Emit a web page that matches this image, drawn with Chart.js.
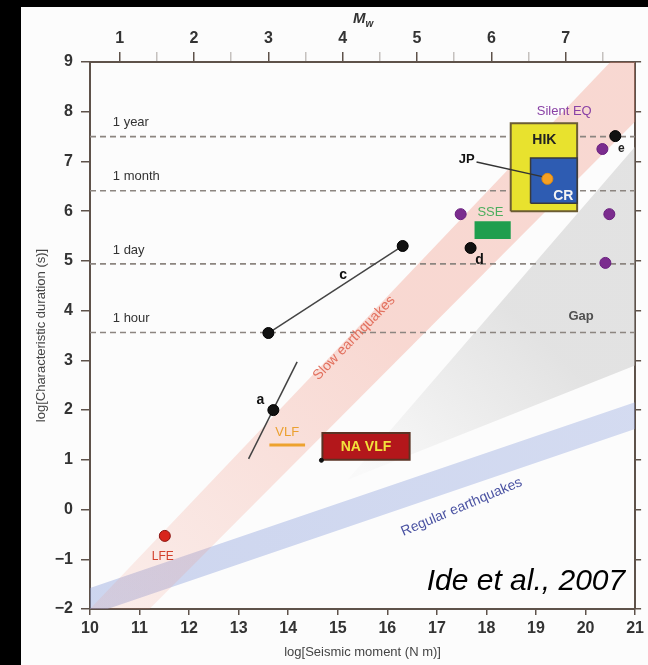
<!DOCTYPE html>
<html>
<head>
<meta charset="utf-8">
<script src="https://cdn.jsdelivr.net/npm/chart.js@4.4.1/dist/chart.umd.min.js"></script>
<style>
  html, body { margin: 0; padding: 0; background: #000; }
  canvas { display: block; }
</style>
</head>
<body>
<canvas id="chart" width="648" height="665"></canvas>
<script>
// axes
const momentTicks = [10, 11, 12, 13, 14, 15, 16, 17, 18, 19, 20, 21];
const durationTicks = [-2, -1, 0, 1, 2, 3, 4, 5, 6, 7, 8, 9];
const mwTicks = [1, 1.5, 2, 2.5, 3, 3.5, 4, 4.5, 5, 5.5, 6, 6.5, 7, 7.5];

// reference durations (log s)
const timescaleNames = ['1 year', '1 month', '1 day', '1 hour'];
const timescaleLogs = [7.5, 6.41, 4.94, 3.56];

// events [log M0, log T]
const lfe = [[11.51, -0.53]];
const slowEvents = [[13.70, 2.00], [13.60, 3.55], [16.31, 5.30], [17.68, 5.26], [20.60, 7.51]];
const silentEvents = [[17.48, 5.94], [20.34, 7.25], [20.48, 5.94], [20.40, 4.96]];
const crEvent = [[19.23, 6.65]];
const naVlfCorner = [[14.67, 0.99]];
const eventA = [[13.20, 1.02], [14.18, 2.97]];
const eventC = [[13.60, 3.55], [16.31, 5.30]];
const vlfRange = [[13.62, 1.30], [14.34, 1.30]];
const jpLeader = [[17.80, 6.99], [19.15, 6.69]];

// boxes [xmin, xmax, ymin, ymax]
const hikBox = [18.49, 19.83, 6.00, 7.77];
const crBox = [18.89, 19.83, 6.16, 7.07];
const sseBox = [17.76, 18.49, 5.44, 5.80];
const naVlfBox = [14.69, 16.45, 1.00, 1.54];

// scaling zones
const slowBand = [[10.0, -2.0], [20.5, 9.0], [22.2, 9.0], [11.2, -2.0]];
const regularBand = [[10, -1.58], [21, 2.16], [21, 1.62], [10, -2.12]];
const gapZone = [[15.2, 0.6], [21, 7.3], [21, 2.9]];

const fam = 'Arial, "Liberation Sans", Helvetica, sans-serif';
const axisColor = '#5e524a';

const pts = arr => arr.map(p => ({x: p[0], y: p[1]}));
const rectPts = r => [{x: r[0], y: r[2]}, {x: r[1], y: r[2]}, {x: r[1], y: r[3]}, {x: r[0], y: r[3]}, {x: r[0], y: r[2]}];

// fading fill, from lower left (weak) to upper right (strong)
function fade(rgb, a0, a1, x0, y0, x1, y1) {
  return ctx => {
    const chart = ctx.chart;
    if (!chart.chartArea) return 'rgba(' + rgb + ',' + a1 + ')';
    const sx = chart.scales.x, sy = chart.scales.y;
    const g = chart.ctx.createLinearGradient(sx.getPixelForValue(x0), sy.getPixelForValue(y0),
      sx.getPixelForValue(x1), sy.getPixelForValue(y1));
    g.addColorStop(0, 'rgba(' + rgb + ',' + a0 + ')');
    g.addColorStop(1, 'rgba(' + rgb + ',' + a1 + ')');
    return g;
  };
}

function zone(data, color, order) {
  return {data: data, showLine: true, fill: 'shape', backgroundColor: color, borderWidth: 0,
    borderColor: 'rgba(0,0,0,0)', pointRadius: 0, order: order};
}
function box(r, fillCol, edge, w, order) {
  return {data: rectPts(r), showLine: true, fill: 'shape', backgroundColor: fillCol, borderColor: edge,
    borderWidth: w, pointRadius: 0, order: order};
}
function seg(data, color, w, order) {
  return {data: data, showLine: true, fill: false, borderColor: color, borderWidth: w, pointRadius: 0, order: order};
}
function dots(data, color, edge, r, order) {
  return {data: pts(data), showLine: false, pointRadius: r, pointBackgroundColor: color,
    pointBorderColor: edge, pointBorderWidth: 1, order: order};
}

const datasets = [
  zone(pts(gapZone), fade('195,195,195', 0.05, 0.45, 15.5, 0.8, 18.5, 4.0), 30),
  zone(pts(regularBand), fade('140,160,220', 0.42, 0.36, 10, -2, 21, 2), 29),
  zone(pts(slowBand), fade('240,140,120', 0.14, 0.32, 10.5, -2, 16, 3.5), 28)
];
timescaleLogs.forEach(v => {
  datasets.push({data: [{x: 10, y: v}, {x: 21, y: v}], showLine: true, fill: false, borderColor: '#8c8580',
    borderWidth: 1.6, borderDash: [6, 4], pointRadius: 0, order: 20});
});
datasets.push(box(sseBox, '#1f9e4e', 'rgba(0,0,0,0)', 0, 15));
datasets.push(box(naVlfBox, '#b3171b', '#5a3324', 2, 15));
datasets.push(box(hikBox, '#e8e22e', '#6b5c34', 2, 14));
datasets.push(box(crBox, '#2e5cb2', '#3a3a3a', 1.5, 13));
datasets.push(seg(pts(eventA), '#444', 1.5, 10));
datasets.push(seg(pts(eventC), '#444', 1.5, 10));
datasets.push(seg(pts(vlfRange), '#eda22e', 3, 10));
datasets.push(seg(pts(jpLeader), '#333', 1.5, 10));
datasets.push(dots(lfe, '#d8261c', '#8a1410', 5.5, 5));
datasets.push(dots(slowEvents, '#111', '#000', 5.5, 5));
datasets.push(dots(silentEvents, '#7b2c8e', '#6a2080', 5.5, 5));
datasets.push(dots(crEvent, '#f5a024', '#e08a10', 5.5, 5));
datasets.push(dots(naVlfCorner, '#111', '#111', 2, 5));

const notes = [
  {t: 'Slow earthquakes', x: 15.33, y: 3.45, c: '#e2705e', f: '14px ' + fam, r: -46},
  {t: 'Regular earthquakes', x: 17.50, y: 0.05, c: '#4a52a2', f: '14px ' + fam, r: -23},
  {t: 'c', x: 15.11, y: 4.72, c: '#111', f: 'bold 14px ' + fam},
  {t: 'a', x: 13.44, y: 2.20, c: '#111', f: 'bold 14px ' + fam},
  {t: 'd', x: 17.86, y: 5.02, c: '#111', f: 'bold 14px ' + fam},
  {t: 'e', x: 20.72, y: 7.25, c: '#222', f: 'bold 12px ' + fam},
  {t: 'JP', x: 17.60, y: 7.05, c: '#111', f: 'bold 13px ' + fam},
  {t: 'SSE', x: 18.08, y: 5.98, c: '#4cae5e', f: '13px ' + fam},
  {t: 'HIK', x: 19.17, y: 7.43, c: '#222', f: 'bold 14px ' + fam},
  {t: 'CR', x: 19.55, y: 6.31, c: '#f4f4f4', f: 'bold 14px ' + fam},
  {t: 'Silent EQ', x: 19.57, y: 8.00, c: '#8a42a6', f: '13px ' + fam},
  {t: 'Gap', x: 19.91, y: 3.89, c: '#505050', f: 'bold 13px ' + fam},
  {t: 'LFE', x: 11.47, y: -0.95, c: '#d2402c', f: '12px ' + fam},
  {t: 'VLF', x: 13.98, y: 1.56, c: '#eba030', f: '13px ' + fam},
  {t: 'NA VLF', x: 15.57, y: 1.26, c: '#f2e23c', f: 'bold 14px ' + fam},
  {t: 'Ide et al., 2007', x: 20.80, y: -1.46, c: '#000', f: 'italic 30px ' + fam, a: 'right'}
];
timescaleNames.forEach((name, i) => {
  notes.push({t: name, x: 10.46, y: timescaleLogs[i] + 0.28, c: '#333', f: '13px ' + fam, a: 'left'});
});

const frame = {
  id: 'frame',
  beforeDraw(chart) {
    const ctx = chart.ctx;
    ctx.save();
    ctx.fillStyle = '#000';
    ctx.fillRect(0, 0, chart.width, chart.height);
    ctx.fillStyle = '#fcfcfc';
    ctx.fillRect(21, 7, chart.width - 21, chart.height - 7);
    ctx.restore();
  }
};

const notePlugin = {
  id: 'notes',
  afterDatasetsDraw(chart) {
    const {ctx, scales: {x, y}} = chart;
    notes.forEach(n => {
      ctx.save();
      ctx.translate(x.getPixelForValue(n.x), y.getPixelForValue(n.y));
      if (n.r) ctx.rotate(n.r * Math.PI / 180);
      ctx.font = n.f;
      ctx.fillStyle = n.c;
      ctx.textAlign = n.a || 'center';
      ctx.textBaseline = 'middle';
      ctx.fillText(n.t, 0, 0);
      ctx.restore();
    });
    // Mw title of top axis
    const cx = (chart.chartArea.left + chart.chartArea.right) / 2;
    ctx.save();
    ctx.fillStyle = '#333';
    ctx.font = 'italic bold 15px ' + fam;
    ctx.textBaseline = 'alphabetic';
    ctx.textAlign = 'right';
    ctx.fillText('M', cx + 3, 23);
    ctx.font = 'italic bold 10px ' + fam;
    ctx.textAlign = 'left';
    ctx.fillText('w', cx + 3, 27);
    ctx.restore();
  }
};

const tickFont = {family: fam, size: 16, weight: 'bold'};

new Chart(document.getElementById('chart'), {
  type: 'line',
  data: {datasets: datasets},
  options: {
    responsive: false,
    animation: false,
    layout: {padding: {left: 21, top: 7, right: 0, bottom: 0}},
    plugins: {legend: {display: false}, tooltip: {enabled: false}},
    scales: {
      x: {
        type: 'linear', position: 'bottom', min: 10, max: 21,
        afterBuildTicks: s => { s.ticks = momentTicks.map(v => ({value: v})); },
        afterFit: s => { s.height = 56; },
        ticks: {color: '#333', font: tickFont, padding: 4, maxRotation: 0, autoSkip: false},
        grid: {drawOnChartArea: false, tickLength: 6, color: axisColor, lineWidth: 1.5},
        border: {color: axisColor, width: 2},
        title: {display: true, text: 'log[Seismic moment (N m)]', color: '#444',
          font: {family: fam, size: 13}, padding: {top: 0, bottom: 5}}
      },
      xt: {
        type: 'linear', position: 'top', min: 10, max: 21,
        afterBuildTicks: s => { s.ticks = mwTicks.map(m => ({value: 1.5 * m + 9.1})); },
        afterFit: s => { s.height = 55; },
        ticks: {
          color: '#333', font: tickFont, padding: 4, maxRotation: 0, autoSkip: false,
          callback: v => {
            const m = (v - 9.1) / 1.5;
            return Math.abs(m - Math.round(m)) < 0.01 ? String(Math.round(m)) : '';
          }
        },
        grid: {
          drawOnChartArea: false, tickLength: 10, lineWidth: 1.5,
          color: ctx => {
            const m = (ctx.tick.value - 9.1) / 1.5;
            return Math.abs(m - Math.round(m)) < 0.01 ? axisColor : 'rgba(94,82,74,0.35)';
          }
        },
        border: {color: axisColor, width: 2}
      },
      y: {
        type: 'linear', position: 'left', min: -2, max: 9,
        afterBuildTicks: s => { s.ticks = durationTicks.map(v => ({value: v})); },
        afterFit: s => { s.width = 69; },
        ticks: {
          color: '#333', font: tickFont, padding: 8,
          callback: v => (v < 0 ? '\u2212' + Math.abs(v) : String(v))
        },
        grid: {drawOnChartArea: false, tickLength: 9, color: axisColor, lineWidth: 1.5},
        border: {color: axisColor, width: 2},
        title: {display: true, text: 'log[Characteristic duration (s)]', color: '#444',
          font: {family: fam, size: 13}, padding: {top: 13, bottom: 0}}
      },
      yr: {
        type: 'linear', position: 'right', min: -2, max: 9,
        afterBuildTicks: s => { s.ticks = durationTicks.map(v => ({value: v})); },
        afterFit: s => { s.width = 11; },
        ticks: {display: false},
        grid: {drawOnChartArea: false, tickLength: 6, color: axisColor, lineWidth: 1.5},
        border: {color: axisColor, width: 2}
      }
    }
  },
  plugins: [frame, notePlugin]
});
</script>
</body>
</html>
